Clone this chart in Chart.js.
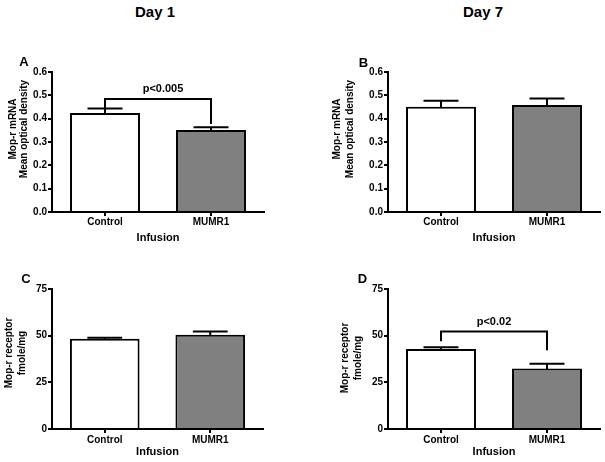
<!DOCTYPE html>
<html>
<head>
<meta charset="utf-8">
<script src="https://cdn.jsdelivr.net/npm/chart.js@4/dist/chart.umd.min.js"></script>
<style>
  html, body { margin: 0; padding: 0; background: #fff; }
  #wrap { position: relative; width: 605px; height: 462px; overflow: hidden; font-family: "Liberation Sans", Arial, sans-serif; }
  canvas { position: absolute; }
  .day { position: absolute; top: 2px; width: 120px; text-align: center; font-weight: bold; font-size: 15px; line-height: 20px; color: #000; }
</style>
</head>
<body>
<div id="wrap">
  <div class="day" style="left:95px;">Day 1</div>
  <div class="day" style="left:423px;">Day 7</div>
  <canvas id="cA" width="300" height="248" style="left:0;top:0;"></canvas>
  <canvas id="cB" width="305" height="248" style="left:300px;top:0;"></canvas>
  <canvas id="cC" width="300" height="214" style="left:0;top:248px;"></canvas>
  <canvas id="cD" width="305" height="214" style="left:300px;top:248px;"></canvas>
</div>
<script>
// ---- data ----
const categories = ['Control', 'MUMR1'];
const barColors = ['#ffffff', '#808080'];

const meanA = [0.424, 0.351];
const semA  = [0.020, 0.012];
const meanB = [0.451, 0.459];
const semB  = [0.026, 0.027];
const meanC = [48.4, 50.5];
const semC  = [0.5, 1.7];
const meanD = [42.9, 32.4];
const semD  = [0.9, 2.6];

// bracket levels: [left foot, bracket bar, right foot]
const bracketA = [0.446, 0.484, 0.377];
const bracketD = [47.0, 52.2, 42.2];
const pLabelA = 'p<0.005';
const pLabelD = 'p<0.02';

const ticksMRNA = [0, 0.6, 0.1];     // min, max, step
const ticksReceptor = [0, 75, 25];

const titleMRNA = ['Mop-r mRNA', 'Mean optical density'];
const titleReceptor = ['Mop-r receptor', 'fmole/mg'];
const xTitle = 'Infusion';

// ---- drawing ----
const FONT = '"Liberation Sans", Arial, sans-serif';

const decor = {
  id: 'decor',
  afterDatasetsDraw(chart, args, o) {
    const ctx = chart.ctx, y = chart.scales.y, meta = chart.getDatasetMeta(0);
    ctx.save();
    ctx.strokeStyle = '#000';
    ctx.lineWidth = 2;
    ctx.lineCap = 'butt';
    meta.data.forEach((bar, i) => {
      const top = y.getPixelForValue(o.means[i] + o.errors[i]);
      const half = bar.width / 4;
      ctx.beginPath();
      ctx.moveTo(bar.x, bar.y + 1);
      ctx.lineTo(bar.x, top);
      ctx.moveTo(bar.x - half, top);
      ctx.lineTo(bar.x + half, top);
      ctx.stroke();
    });
    if (o.bracket) {
      const x0 = meta.data[0].x, x1 = meta.data[1].x;
      const yl = y.getPixelForValue(o.bracket[0]);
      const yt = y.getPixelForValue(o.bracket[1]);
      const yr = y.getPixelForValue(o.bracket[2]);
      ctx.lineWidth = 2;
      ctx.lineJoin = 'miter';
      ctx.beginPath();
      ctx.moveTo(x0, yl);
      ctx.lineTo(x0, yt);
      ctx.lineTo(x1, yt);
      ctx.lineTo(x1, yr);
      ctx.stroke();
      ctx.fillStyle = '#000';
      ctx.font = 'bold 11px ' + FONT;
      ctx.textAlign = 'center';
      ctx.textBaseline = 'middle';
      ctx.fillText(o.pLabel, (x0 + x1) / 2 + o.pShift, yt - 10);
    }
    ctx.restore();
  },
  afterDraw(chart, args, o) {
    const ctx = chart.ctx;
    ctx.save();
    ctx.fillStyle = '#000';
    ctx.font = 'bold 13px ' + FONT;
    ctx.textAlign = 'center';
    ctx.textBaseline = 'middle';
    ctx.fillText(o.letter, o.letterPos[0], o.letterPos[1]);
    ctx.font = 'bold 10px ' + FONT;
    o.yTitle.forEach((line, i) => {
      ctx.save();
      ctx.translate(o.yTitleX[i], o.yTitleY);
      ctx.rotate(-Math.PI / 2);
      ctx.fillText(line, 0, 0);
      ctx.restore();
    });
    ctx.restore();
  }
};

function makePanel(id, p) {
  const tickFont = { family: FONT, size: 10, weight: 'bold' };
  new Chart(document.getElementById(id), {
    type: 'bar',
    data: {
      labels: categories,
      datasets: [{
        data: p.means,
        backgroundColor: barColors,
        borderColor: '#000',
        borderWidth: 2,
        categoryPercentage: 1.0,
        barPercentage: 0.66
      }]
    },
    options: {
      responsive: false,
      animation: false,
      devicePixelRatio: 1,
      layout: { padding: { left: 0, top: p.padTop, right: p.padRight, bottom: 0 } },
      plugins: {
        legend: { display: false },
        tooltip: { enabled: false },
        decor: {
          means: p.means, errors: p.errors, bracket: p.bracket, pLabel: p.pLabel, pShift: p.pShift || 0,
          letter: p.letter, letterPos: p.letterPos, yTitle: p.yTitle, yTitleX: p.yTitleX, yTitleY: p.yTitleY
        }
      },
      scales: {
        x: {
          offset: true,
          grid: { display: true, offset: false, drawOnChartArea: false, drawTicks: true, tickLength: 4, color: '#000', lineWidth: 2 },
          border: { display: true, color: '#000', width: 2 },
          ticks: { color: '#000', font: tickFont, padding: p.xTickPad, maxRotation: 0 },
          title: { display: true, text: xTitle, color: '#000', font: { family: FONT, size: 11, weight: 'bold' }, padding: { top: 0, bottom: 3 } },
          afterFit: s => { s.height = p.xHeight; }
        },
        y: {
          min: p.ticks[0], max: p.ticks[1],
          grid: { display: true, drawOnChartArea: false, drawTicks: true, tickLength: 4, color: '#000', lineWidth: 2 },
          border: { display: true, color: '#000', width: 2 },
          ticks: {
            stepSize: p.ticks[2], color: '#000', font: tickFont, padding: 1,
            callback: v => p.decimals ? Number(v).toFixed(p.decimals) : String(Math.round(v))
          },
          afterFit: s => { s.width = p.yWidth; }
        }
      }
    },
    plugins: [decor]
  });
}

makePanel('cA', {
  means: meanA, errors: semA, ticks: ticksMRNA, decimals: 1,
  bracket: bracketA, pLabel: pLabelA, pShift: 5,
  letter: 'A', letterPos: [24, 62], yTitle: titleMRNA, yTitleX: [13, 24], yTitleY: 129,
  padTop: 72, padRight: 36, yWidth: 52, xHeight: 36, xTickPad: 0
});
makePanel('cB', {
  means: meanB, errors: semB, ticks: ticksMRNA, decimals: 1,
  letter: 'B', letterPos: [63.5, 63], yTitle: titleMRNA, yTitleX: [37, 50], yTitleY: 129,
  padTop: 72, padRight: 5, yWidth: 88, xHeight: 36, xTickPad: 0
});
makePanel('cC', {
  means: meanC, errors: semC, ticks: ticksReceptor, decimals: 0,
  letter: 'C', letterPos: [26, 31], yTitle: titleReceptor, yTitleX: [9, 22], yTitleY: 105,
  padTop: 41, padRight: 37, yWidth: 52, xHeight: 33, xTickPad: 1
});
makePanel('cD', {
  means: meanD, errors: semD, ticks: ticksReceptor, decimals: 0,
  bracket: bracketD, pLabel: pLabelD, pShift: 0,
  letter: 'D', letterPos: [62.5, 31], yTitle: titleReceptor, yTitleX: [45, 58], yTitleY: 110,
  padTop: 41, padRight: 5, yWidth: 88, xHeight: 33, xTickPad: 1
});
</script>
</body>
</html>
